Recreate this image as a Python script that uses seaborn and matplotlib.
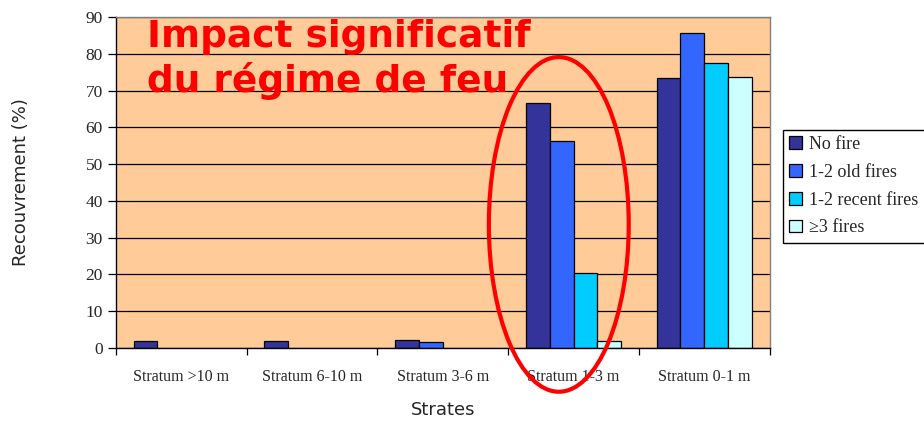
import matplotlib
matplotlib.use("Agg")
import matplotlib.pyplot as plt
from matplotlib.patches import Ellipse
import seaborn as sns
import pandas as pd

categories = ["Stratum >10 m", "Stratum 6-10 m", "Stratum 3-6 m", "Stratum 1-3 m", "Stratum 0-1 m"]
series = ["No fire", "1-2 old fires", "1-2 recent fires", "\u22653 fires"]
no_fire = [1.8, 1.8, 2.3, 66.5, 73.4]
old_fires = [0.0, 0.0, 1.5, 56.3, 85.7]
recent_fires = [0.0, 0.0, 0.0, 20.5, 77.5]
three_fires = [0.0, 0.0, 0.0, 1.9, 73.6]
colors = ["#333399", "#3366FF", "#00CCFF", "#CCFFFF"]

rows = []
for s, vals in zip(series, [no_fire, old_fires, recent_fires, three_fires]):
    for c, v in zip(categories, vals):
        rows.append({"Strate": c, "Serie": s, "Valeur": v})
df = pd.DataFrame(rows)

sns.set_style("white")
plt.rcParams["font.family"] = ["DejaVu Sans"]

fig = plt.figure(figsize=(9.24, 4.22), dpi=100)
ax = fig.add_axes([0.1255, 0.1754, 0.7075, 0.7843])
ax.set_facecolor("#FFCC99")

ax.set_axisbelow(True)
ax.yaxis.grid(True, color="black", linewidth=0.9)
ax.xaxis.grid(False)

sns.barplot(data=df, x="Strate", y="Valeur", hue="Serie", order=categories,
            hue_order=series, palette=colors, width=0.73, gap=0,
            edgecolor="black", linewidth=0.9, saturation=1, ax=ax, legend=True)

for cont in ax.containers:
    for p in cont:
        if p.get_height() == 0:
            p.set_visible(False)

ax.set_xlim(-0.5, 4.5)
ax.set_ylim(0, 90)
ax.set_yticks(range(0, 91, 10))
ax.tick_params(axis="y", direction="out", length=6, width=0.9, color="black",
               labelsize=12.5, left=True)
ax.set_xticks(range(len(categories)))
ax.set_xticks([i - 0.5 for i in range(len(categories) + 1)], minor=True)
ax.tick_params(axis="x", which="major", length=0, labelsize=11.5, pad=15)
ax.tick_params(axis="x", which="minor", direction="out", length=5, width=0.9,
               color="black", bottom=True)
for lab in ax.get_xticklabels() + ax.get_yticklabels():
    lab.set_fontfamily("Liberation Serif")

for side in ["top", "right"]:
    ax.spines[side].set_visible(True)
    ax.spines[side].set_color("#808080")
    ax.spines[side].set_linewidth(1)
ax.spines["left"].set_color("black")
ax.spines["bottom"].set_color("black")
ax.spines["left"].set_linewidth(1)
ax.spines["bottom"].set_linewidth(1)

ax.set_xlabel("Strates", fontsize=13, labelpad=12)
ax.set_ylabel("Recouvrement (%)", fontsize=13, labelpad=40)

leg = ax.legend(loc="upper left", bbox_to_anchor=(1.02, 0.66), frameon=True,
                fancybox=False, edgecolor="black", framealpha=1,
                prop={"family": "Liberation Serif", "size": 13},
                handlelength=0.7, handleheight=0.7, handletextpad=0.4,
                labelspacing=0.6, borderpad=0.35, borderaxespad=0)
leg.get_frame().set_linewidth(1)

ax.text(0.048, 0.995, "Impact significatif\ndu r\u00e9gime de feu", transform=ax.transAxes,
        color="#FF0000", fontsize=27, fontweight="bold", va="top", ha="left",
        linespacing=1.25, fontfamily="DejaVu Sans")

ell = Ellipse((2.887, 33.6), width=1.07, height=91, fill=False, edgecolor="#FF0000",
              linewidth=3, clip_on=False, zorder=10)
ax.add_patch(ell)

fig.savefig("out.png", dpi=100)
